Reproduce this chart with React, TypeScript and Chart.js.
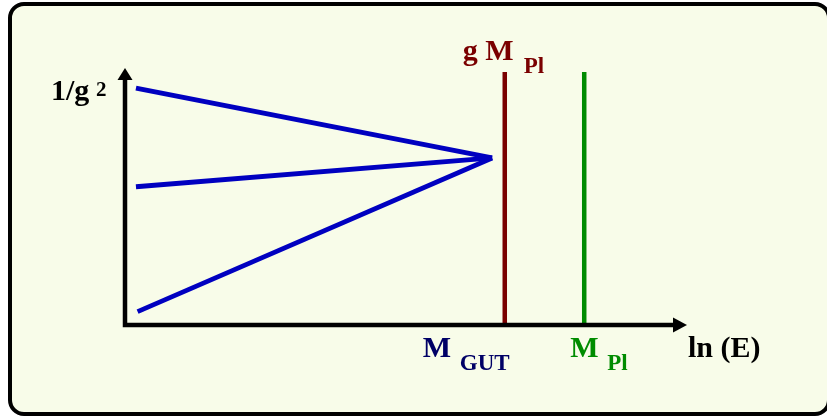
import React, { useEffect, useRef } from "react";
import { Chart, registerables } from "chart.js";

Chart.register(...registerables);

// Energy axis (ln E) positions, arbitrary units 0..100
const blueStartX = [2, 2, 2.3];
const blueStartY = [92.2, 53.8, 5.2];
const convergenceX = 67.0;
const convergenceY = 65.0;
const gMplX = 69.3;
const mplX = 83.8;
const verticalTop = 98.4;

const FONT = '"Liberation Serif", "Times New Roman", serif';
const BLUE = "#0000c0";
const RED = "#7a0000";
const GREEN = "#008c00";
const NAVY = "#000066";

const overlay = {
  id: "overlay",
  afterDraw(chart: any) {
    const { ctx, chartArea } = chart;
    const xs = chart.scales.x;
    const ys = chart.scales.y;
    const ox = xs.getPixelForValue(0);
    const oy = ys.getPixelForValue(0);
    const top = chartArea.top;
    const right = chartArea.right;
    ctx.save();
    // axes
    ctx.strokeStyle = "#000";
    ctx.fillStyle = "#000";
    ctx.lineWidth = 4.5;
    ctx.lineCap = "butt";
    ctx.beginPath();
    ctx.moveTo(ox, oy + 2.25);
    ctx.lineTo(ox, top + 10);
    ctx.moveTo(ox - 2.25, oy);
    ctx.lineTo(right + 1, oy);
    ctx.stroke();
    // arrowheads
    ctx.beginPath();
    ctx.moveTo(ox, top);
    ctx.lineTo(ox - 7.5, top + 12);
    ctx.lineTo(ox + 7.5, top + 12);
    ctx.closePath();
    ctx.fill();
    ctx.beginPath();
    ctx.moveTo(right + 14, oy);
    ctx.lineTo(right, oy - 7.5);
    ctx.lineTo(right, oy + 7.5);
    ctx.closePath();
    ctx.fill();

    // labels
    ctx.textBaseline = "alphabetic";
    ctx.textAlign = "left";
    const big = `bold 30px ${FONT}`;
    const small = `bold 23px ${FONT}`;
    const put = (t: string, x: number, y: number, font: string, color: string) => {
      ctx.font = font;
      ctx.fillStyle = color;
      ctx.fillText(t, x, y);
    };
    // y-axis label
    put("1/g", ox - 74, top + 32, big, "#000");
    put("2", ox - 29, top + 28, `bold 21px ${FONT}`, "#000");
    // g M_Pl
    const rx = xs.getPixelForValue(gMplX);
    put("g M", rx - 42, top - 8, big, RED);
    put("Pl", rx + 19, top + 5, small, RED);
    // M_GUT
    put("M", rx - 82, oy + 32, big, NAVY);
    put("GUT", rx - 45, oy + 45, small, NAVY);
    // M_Pl
    const gx = xs.getPixelForValue(mplX);
    put("M", gx - 14, oy + 32, big, GREEN);
    put("Pl", gx + 23, oy + 45, small, GREEN);
    // ln(E)
    put("ln (E)", right + 15, oy + 32, big, "#000");
    ctx.restore();
  },
};

export default function App() {
  const ref = useRef<HTMLCanvasElement>(null);
  useEffect(() => {
    if (!ref.current) return;
    const blueSets = blueStartX.map((x0, i) => ({
      data: [
        { x: x0, y: blueStartY[i] },
        { x: convergenceX, y: convergenceY },
      ],
      borderColor: BLUE,
      borderWidth: 4.8,
      showLine: true,
      pointRadius: 0,
      clip: false as any,
    }));
    const chart = new Chart(ref.current, {
      type: "scatter",
      data: {
        datasets: [
          ...blueSets,
          {
            data: [
              { x: gMplX, y: 0 },
              { x: gMplX, y: verticalTop },
            ],
            borderColor: RED,
            borderWidth: 4.5,
            showLine: true,
            pointRadius: 0,
            clip: false as any,
          },
          {
            data: [
              { x: mplX, y: 0 },
              { x: mplX, y: verticalTop },
            ],
            borderColor: GREEN,
            borderWidth: 4.5,
            showLine: true,
            pointRadius: 0,
            clip: false as any,
          },
        ],
      },
      options: {
        animation: false,
        responsive: false,
        maintainAspectRatio: false,
        layout: { padding: { left: 125, right: 154, top: 68, bottom: 91 } },
        scales: {
          x: { type: "linear", min: 0, max: 100, display: false },
          y: { type: "linear", min: 0, max: 100, display: false },
        },
        plugins: { legend: { display: false }, tooltip: { enabled: false } },
      },
      plugins: [overlay],
    });
    return () => chart.destroy();
  }, []);
  return (
    <div style={{ position: "fixed", left: 0, top: 0, width: 827, height: 416, background: "#fff" }}>
      <div
        style={{
          position: "absolute",
          left: 8,
          top: 2,
          width: 823,
          height: 414,
          boxSizing: "border-box",
          border: "4px solid #000",
          borderRadius: 16,
          background: "#f8fce9",
        }}
      />
      <canvas ref={ref} width={827} height={416} style={{ position: "absolute", left: 0, top: 0 }} />
    </div>
  );
}
